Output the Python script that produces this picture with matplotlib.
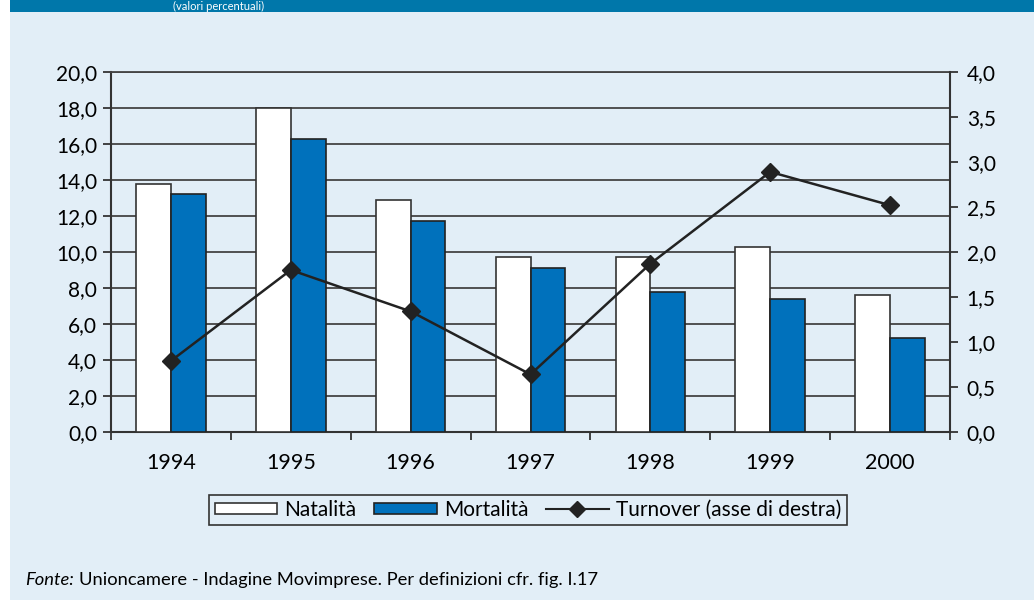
import numpy as np
import matplotlib.pyplot as plt
import matplotlib.patches as patches
from matplotlib.lines import Line2D

plt.rcParams['font.family'] = ['Lato', 'DejaVu Sans']

# dati
anni = ['1994', '1995', '1996', '1997', '1998', '1999', '2000']
natalita = [13.8, 18.0, 12.9, 9.7, 9.7, 10.3, 7.6]
mortalita = [13.2, 16.3, 11.7, 9.1, 7.8, 7.4, 5.2]
turnover = [0.79, 1.80, 1.34, 0.64, 1.87, 2.89, 2.52]

BG = '#E2EEF7'
BLU = '#0071BC'
BANDA = '#0077AA'

fig = plt.figure(figsize=(10.34, 6), dpi=100)
fig.patch.set_facecolor('white')
# sfondo del riquadro e banda del titolo
fig.patches.append(patches.Rectangle((10/1034, 0), 1, 1, transform=fig.transFigure,
                                     facecolor=BG, edgecolor='none', zorder=-10))
fig.patches.append(patches.Rectangle((10/1034, 1 - 12/600), 1, 12/600, transform=fig.transFigure,
                                     facecolor=BANDA, edgecolor='none', zorder=-9))
fig.text(173/1034, 1 - 6/600, '(valori percentuali)', color='white', fontsize=8,
         va='center', ha='left')

ax = fig.add_axes([111/1034, 168/600, 839/1034, 360/600])
ax.set_facecolor(BG)
x = np.arange(len(anni))
w = 0.29
ax.bar(x - w/2, natalita, w, color='white', edgecolor='#333333', linewidth=1.2, zorder=3)
ax.bar(x + w/2, mortalita, w, color=BLU, edgecolor='#222222', linewidth=1.2, zorder=3)
ax.set_xlim(-0.5, len(anni) - 0.5)
ax.set_ylim(0, 20)
ax.set_yticks(np.arange(0, 20.1, 2))
ax.set_yticklabels([f'{v:.1f}'.replace('.', ',') for v in np.arange(0, 20.1, 2)])
ax.yaxis.grid(True, color='#444444', linewidth=1.3, zorder=0)
ax.set_axisbelow(True)
ax.set_xticks(x)
ax.set_xticklabels(anni)
ax.set_xticks(np.arange(-0.5, len(anni)), minor=True)
ax.tick_params(axis='x', which='major', length=0, pad=15, labelsize=15.5)
ax.tick_params(axis='x', which='minor', length=6, width=1.3, color='#333333')
ax.tick_params(axis='y', length=6, width=1.3, color='#333333', labelsize=15, pad=4)
for s in ['left', 'bottom']:
    ax.spines[s].set_linewidth(1.5)
    ax.spines[s].set_color('#333333')
ax.spines['top'].set_linewidth(1.3)
ax.spines['top'].set_color('#444444')
ax.spines['right'].set_visible(False)

ax2 = ax.twinx()
ax2.plot(x, turnover, color='#222222', linewidth=1.8, marker='D', markersize=9, zorder=5)
ax2.set_ylim(0, 4)
ax2.set_yticks(np.arange(0, 4.01, 0.5))
ax2.set_yticklabels([f'{v:.1f}'.replace('.', ',') for v in np.arange(0, 4.01, 0.5)])
ax2.tick_params(axis='y', length=6, width=1.3, color='#333333', labelsize=15, pad=6)
ax2.spines['right'].set_linewidth(1.5)
ax2.spines['right'].set_color('#333333')
for s in ['left', 'top', 'bottom']:
    ax2.spines[s].set_visible(False)

handles = [patches.Patch(facecolor='white', edgecolor='#333333', linewidth=1.2),
           patches.Patch(facecolor=BLU, edgecolor='#222222', linewidth=1.2),
           Line2D([], [], color='#222222', linewidth=1.5, marker='D', markersize=8)]
leg = fig.legend(handles, ['Natalità', 'Mortalità', 'Turnover (asse di destra)'],
                 loc='center', bbox_to_anchor=(528/1034, 1 - 510/600), ncol=3,
                 fontsize=15, frameon=True, fancybox=False, edgecolor='#333333',
                 facecolor=BG, framealpha=1, handlelength=3.0, handleheight=0.45,
                 columnspacing=0.85, handletextpad=0.35, borderpad=0.25)
leg.get_frame().set_linewidth(1.2)

fonte = fig.text(25/1034, 1 - 580/600, 'Fonte:', fontsize=13.2, style='italic', va='center')
fig.canvas.draw()
bb = fonte.get_window_extent().transformed(fig.transFigure.inverted())
fig.text(bb.x1 + 5/1034, 1 - 580/600,
         'Unioncamere - Indagine Movimprese. Per definizioni cfr. fig. I.17',
         fontsize=13.2, va='center')

fig.savefig('out.png', dpi=100, facecolor=fig.get_facecolor())
